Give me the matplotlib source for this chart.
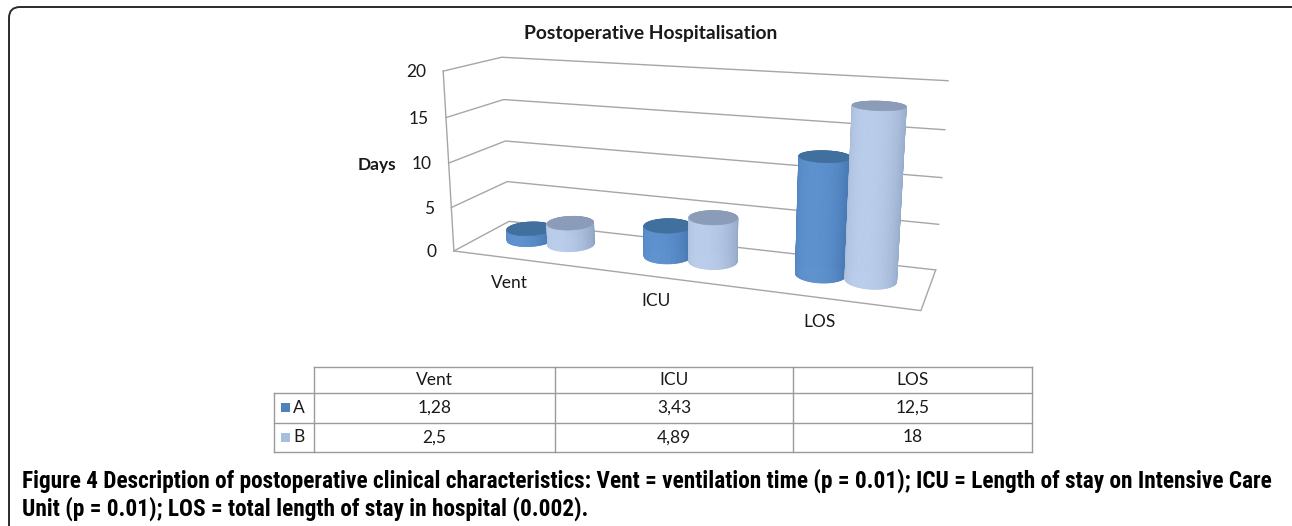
#!/usr/bin/env python3
"""plot.py - Excel-style 3D cylinder chart with data table and figure caption."""
import numpy as np
import matplotlib

matplotlib.use("Agg")
import matplotlib.pyplot as plt
from matplotlib import font_manager
from matplotlib.patches import Polygon, FancyBboxPatch, Rectangle

# ---- data -----------------------------------------------------------------
CATEGORIES = ["Vent", "ICU", "LOS"]
SERIES = ["A", "B"]
A_VALUES = [1.28, 3.43, 12.5]
B_VALUES = [2.5, 4.89, 18]
Y_TICKS = [0, 5, 10, 15, 20]
TITLE = "Postoperative Hospitalisation"
Y_LABEL = "Days"
CAPTION = [
    "Figure 4 Description of postoperative clinical characteristics: Vent = ventilation time (p = 0.01); "
    "ICU = Length of stay on Intensive Care",
    "Unit (p = 0.01); LOS = total length of stay in hospital (0.002).",
]

# ---- layout ---------------------------------------------------------------
W, H = 1292, 526
Z_MAX = 20.0
# box corners (u along categories, d depth 0=front, z/Z_MAX) -> pixel, used to fit a camera
FRAME_UDZ = [(0, 0, 0), (0, 0, .25), (0, 0, .5), (0, 0, .75), (0, 0, 1),
             (0, 1, 0), (0, 1, .25), (0, 1, .5), (0, 1, .75), (0, 1, 1),
             (1, 1, 0), (1, 1, .25), (1, 1, .5), (1, 1, .75), (1, 1, 1),
             (1, 0, 0)]
FRAME_PX = [(453, 251), (452, 207), (449, 163), (446, 117), (443, 72),
            (510, 222), (507, 182), (505, 140), (503, 100), (502, 57),
            (935, 270), (939, 224), (942, 177), (945, 130), (948, 81),
            (921, 311)]
RU, RD, DC = 0.051, 0.22, 0.55          # cylinder radius in u / d, depth of centres

GRID_COLOR = "#a6a6a6"
STYLE = {
    "A": dict(light="#5e92cf", dark="#2f5f96", top="#41709f", key="#4f81bd"),
    "B": dict(light="#bacdea", dark="#8094b6", top="#8b9cb9", key="#a7bfde"),
}

names = {f.name for f in font_manager.fontManager.ttflist}
BODY_FONT = next((n for n in ["Lato", "Open Sans", "Noto Sans"] if n in names), "DejaVu Sans")
CAP_FONT = next((n for n in ["Liberation Sans Narrow", "Roboto Condensed", "Open Sans Condensed"]
                 if n in names), "DejaVu Sans")


def fit_camera(pts3, pts2):
    pts2 = (np.asarray(pts2, float) - [700, 200]) / 300.0
    rows = []
    for (u, d, z), (x, y) in zip(pts3, pts2):
        X = [u, d, z, 1.0]
        rows.append(X + [0, 0, 0, 0] + [-x * v for v in X])
        rows.append([0, 0, 0, 0] + X + [-y * v for v in X])
    _, _, vt = np.linalg.svd(np.array(rows))
    return vt[-1].reshape(3, 4)


CAM = fit_camera(FRAME_UDZ, FRAME_PX)


def project(u, d, z):
    u, d, z = np.broadcast_arrays(np.asarray(u, float), np.asarray(d, float),
                                  np.asarray(z, float) / Z_MAX)
    X = np.stack([u, d, z, np.ones_like(u)])
    p = np.tensordot(CAM, X, axes=1)
    return np.stack([p[0] / p[2] * 300 + 700, p[1] / p[2] * 300 + 200], axis=-1)


def mix(c1, c2, t):
    a = np.array(matplotlib.colors.to_rgb(c1))
    b = np.array(matplotlib.colors.to_rgb(c2))
    return tuple(a + (b - a) * t)


def cylinder(ax, uc, value, st, z0):
    th = np.linspace(-np.pi, np.pi, 91)
    us, ds = uc + RU * np.cos(th), DC + RD * np.sin(th)
    bot, top = project(us, ds, 0), project(us, ds, value)
    mids = (th[:-1] + th[1:]) / 2
    for k in np.argsort(-np.sin(mids)):          # back strips first
        b = 0.5 + 0.5 * np.cos(mids[k] + np.radians(100))
        c = mix(st["dark"], st["light"], b)
        quad = [bot[k], bot[k + 1], top[k + 1], top[k]]
        ax.add_patch(Polygon(quad, closed=True, fc=c, ec=c, lw=0.6, zorder=z0))
    ax.add_patch(Polygon(top, closed=True, fc=st["top"], ec=st["top"], lw=0.5, zorder=z0 + 0.5))


fig = plt.figure(figsize=(W / 100, H / 100), dpi=100)
ax = fig.add_axes([0, 0, 1, 1])
ax.set_xlim(0, W)
ax.set_ylim(H, 0)
ax.axis("off")

# outer frame with rounded corners (cut by the image edge)
ax.add_patch(FancyBboxPatch((9, 7), 1300, 540, boxstyle="round,pad=0,rounding_size=11",
                            fc="none", ec="#2b2b2b", lw=1.4))

# walls, gridlines and floor
for z in Y_TICKS:
    pts = project([0, 0, 1], [0, 1, 1], [z, z, z])
    ax.plot(pts[:, 0], pts[:, 1], color=GRID_COLOR, lw=1.0, zorder=1)
    fx, fy = project(0, 0, z)
    ax.text(fx - 17, fy + 1, str(z), ha="right", va="center", fontsize=12.5,
            family=BODY_FONT, color="#1a1a1a")
pts = project([0, 0], [0, 0], [0, Z_MAX])
ax.plot(pts[:, 0], pts[:, 1], color=GRID_COLOR, lw=1.0, zorder=1)
pts = project([0, 1, 1], [0, 0, 1], [0, 0, 0])
ax.plot(pts[:, 0], pts[:, 1], color=GRID_COLOR, lw=1.0, zorder=1)

# cylinders, A in front-left, B touching on the right
n = len(CATEGORIES)
z0 = 2
for i, cat in enumerate(CATEGORIES):
    uc = (i + 0.5) / n
    for j, (s, vals) in enumerate(zip(SERIES, [A_VALUES, B_VALUES])):
        cylinder(ax, uc + (2 * j - 1) * RU, vals[i], STYLE[s], z0)
        z0 += 1
    lx, ly = project(uc, 0, 0)
    ax.text(lx - 12, ly + 23, cat, ha="center", va="center", fontsize=12.5,
            family=BODY_FONT, color="#1a1a1a")

ax.text(377, 165, Y_LABEL, ha="center", va="center", fontsize=12.5, weight="bold",
        family=BODY_FONT, color="#1a1a1a")
title = ax.text(651, 33, TITLE, ha="center", va="center", fontsize=12.5, weight="bold",
                family=BODY_FONT, color="#1a1a1a")

# data table
TX = [274, 314, 555, 793, 1032]
TY = [367, 393, 423, 452]
tl = dict(color="#9a9a9a", lw=1.0, zorder=1)
ax.plot([TX[1], TX[-1]], [TY[0], TY[0]], **tl)
for y in TY[1:]:
    ax.plot([TX[0], TX[-1]], [y, y], **tl)
ax.plot([TX[0], TX[0]], [TY[1], TY[-1]], **tl)
for x in TX[1:]:
    ax.plot([x, x], [TY[0], TY[-1]], **tl)
for c, cat in enumerate(CATEGORIES):
    ax.text((TX[c + 1] + TX[c + 2]) / 2, (TY[0] + TY[1]) / 2, cat, ha="center", va="center",
            fontsize=12.5, family=BODY_FONT, color="#1a1a1a")
for r, (s, vals) in enumerate(zip(SERIES, [A_VALUES, B_VALUES])):
    yc = (TY[r + 1] + TY[r + 2]) / 2
    ax.add_patch(Rectangle((281, yc - 5), 9, 9, fc=STYLE[s]["key"], ec="none"))
    ax.text(299, yc, s, ha="center", va="center", fontsize=12.5, family=BODY_FONT, color="#1a1a1a")
    for c, v in enumerate(vals):
        ax.text((TX[c + 1] + TX[c + 2]) / 2, yc, f"{v:g}".replace(".", ","), ha="center",
                va="center", fontsize=12.5, family=BODY_FONT, color="#1a1a1a")

# caption
cap1 = ax.text(22, 481, CAPTION[0], ha="left", va="center", fontsize=13, weight="bold",
               family=CAP_FONT, fontstretch="condensed", color="black")
cap2 = ax.text(22, 509, CAPTION[1], ha="left", va="center", fontsize=13, weight="bold",
               family=CAP_FONT, fontstretch="condensed", color="black")

renderer = fig.canvas.get_renderer()
for t, width in [(title, 255), (cap1, 1246)]:
    w = t.get_window_extent(renderer).width
    t.set_fontsize(t.get_fontsize() * width / w)
cap2.set_fontsize(cap1.get_fontsize())

fig.savefig("out.png", dpi=100)
